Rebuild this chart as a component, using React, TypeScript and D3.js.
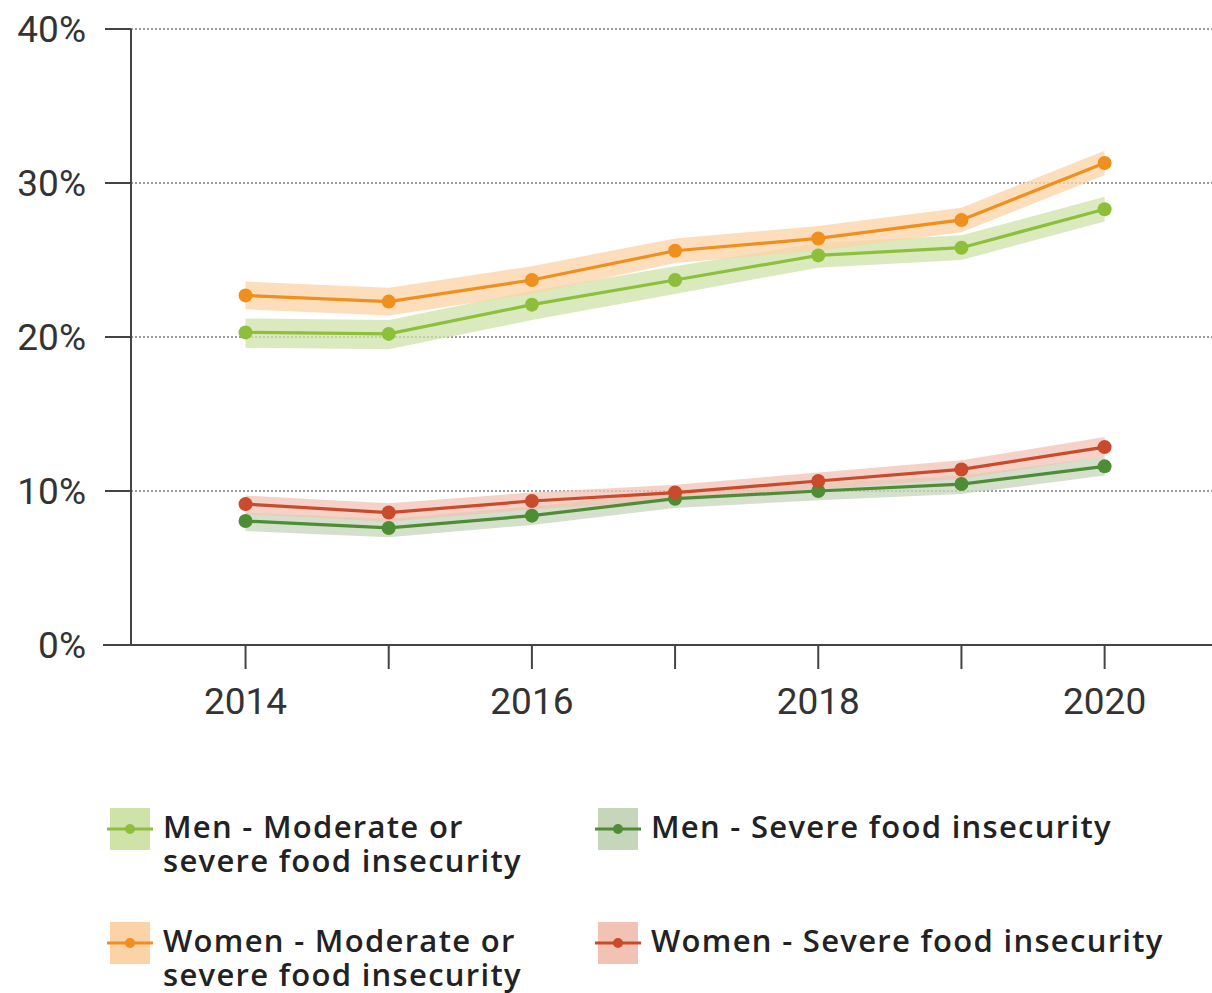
import React, { useEffect } from "react";
import * as d3 from "d3";

// Years on the x axis
const years = [2014, 2015, 2016, 2017, 2018, 2019, 2020];
const xTickLabels = [2014, 2016, 2018, 2020];
const yTicks = [0, 10, 20, 30, 40];

// Prevalence of food insecurity (%), with confidence bands
const menModerate = [20.3, 20.2, 22.1, 23.7, 25.3, 25.8, 28.3];
const menModerateLow = [19.3, 19.2, 21.1, 22.8, 24.5, 25.0, 27.5];
const menModerateHigh = [21.2, 21.1, 23.0, 24.6, 26.1, 26.6, 29.1];

const womenModerate = [22.7, 22.3, 23.7, 25.6, 26.4, 27.6, 31.3];
const womenModerateLow = [21.8, 21.4, 22.8, 24.8, 25.6, 26.8, 30.5];
const womenModerateHigh = [23.6, 23.2, 24.6, 26.4, 27.2, 28.4, 32.1];

const menSevere = [8.05, 7.6, 8.4, 9.5, 10.0, 10.45, 11.6];
const menSevereLow = [7.4, 7.0, 7.8, 8.9, 9.4, 9.8, 11.0];
const menSevereHigh = [8.6, 8.2, 9.0, 10.0, 10.5, 11.0, 12.2];

const womenSevere = [9.15, 8.6, 9.35, 9.9, 10.65, 11.4, 12.85];
const womenSevereLow = [8.5, 8.0, 8.8, 9.4, 10.1, 10.8, 12.2];
const womenSevereHigh = [9.7, 9.2, 9.9, 10.4, 11.2, 12.0, 13.5];

const seriesNames = [
  ["Men - Moderate or", "severe food insecurity"],
  ["Men - Severe food insecurity"],
  ["Women - Moderate or", "severe food insecurity"],
  ["Women - Severe food insecurity"],
];
const lineColors = ["#8dbf3c", "#4f8c36", "#ef8f1d", "#c94a2c"];
const bandColors = ["#cfe3a8", "#c6d6bb", "#fbd3a6", "#f2c3b4"];

type Series = { v: number[]; lo: number[]; hi: number[] };
const series: Series[] = [
  { v: menModerate, lo: menModerateLow, hi: menModerateHigh },
  { v: menSevere, lo: menSevereLow, hi: menSevereHigh },
  { v: womenModerate, lo: womenModerateLow, hi: womenModerateHigh },
  { v: womenSevere, lo: womenSevereLow, hi: womenSevereHigh },
];
// draw order: bands and lines back to front
const drawOrder = [0, 2, 1, 3];

const W = 1212;
const H = 993;

export default function App() {
  useEffect(() => {
    document.body.style.margin = "0";
  }, []);

  const x = d3.scaleLinear().domain([2013.2, 2020.75]).range([131, 1212]);
  const y = d3.scaleLinear().domain([0, 40]).range([645, 29]);

  const line = d3
    .line<number>()
    .x((_, i) => x(years[i]))
    .y((d) => y(d));

  const area = (s: Series) =>
    d3
      .area<number>()
      .x((_, i) => x(years[i]))
      .y0((_, i) => y(s.lo[i]))
      .y1((_, i) => y(s.hi[i]))(s.v) as string;

  const axisFont = "Roboto, sans-serif";
  const legendFont = "'Open Sans', Lato, sans-serif";

  const legendPos = [
    { x: 110, y: 808 },
    { x: 598, y: 808 },
    { x: 110, y: 922 },
    { x: 598, y: 922 },
  ];

  return (
    <svg width={W} height={H} style={{ display: "block", background: "#fff" }}>
      {/* gridlines */}
      {yTicks
        .filter((t) => t > 0)
        .map((t) => (
          <line
            key={"g" + t}
            x1={x.range()[0]}
            x2={W}
            y1={y(t)}
            y2={y(t)}
            stroke="#7a7a7a"
            strokeWidth={1.6}
            strokeDasharray="2,2"
          />
        ))}

      {/* y axis */}
      <line x1={x.range()[0]} x2={x.range()[0]} y1={y(40)} y2={y(0)} stroke="#444" strokeWidth={2} />
      {yTicks.map((t) => (
        <g key={"y" + t}>
          <line x1={105} x2={x.range()[0]} y1={y(t)} y2={y(t)} stroke="#444" strokeWidth={2} />
          <text
            x={86}
            y={y(t)}
            dy="0.36em"
            textAnchor="end"
            fontFamily={axisFont}
            fontSize={37}
            fill="#333"
          >
            {t}%
          </text>
        </g>
      ))}

      {/* x axis */}
      <line x1={103} x2={W} y1={y(0)} y2={y(0)} stroke="#444" strokeWidth={2} />
      {years.map((yr) => (
        <line key={"xt" + yr} x1={x(yr)} x2={x(yr)} y1={y(0)} y2={y(0) + 24} stroke="#444" strokeWidth={2} />
      ))}
      {xTickLabels.map((yr) => (
        <text
          key={"xl" + yr}
          x={x(yr)}
          y={714}
          textAnchor="middle"
          fontFamily={axisFont}
          fontSize={37}
          fill="#333"
        >
          {yr}
        </text>
      ))}

      {/* confidence bands */}
      {drawOrder.map((k) => (
        <path key={"b" + k} d={area(series[k])} fill={bandColors[k]} opacity={0.75} />
      ))}

      {/* lines and points */}
      {drawOrder.map((k) => (
        <g key={"l" + k}>
          <path d={line(series[k].v) as string} fill="none" stroke={lineColors[k]} strokeWidth={3.2} />
          {series[k].v.map((v, i) => (
            <circle key={i} cx={x(years[i])} cy={y(v)} r={7} fill={lineColors[k]} />
          ))}
        </g>
      ))}

      {/* legend */}
      {seriesNames.map((lines, k) => {
        const p = legendPos[k];
        return (
          <g key={"lg" + k} transform={`translate(${p.x},${p.y})`}>
            <rect x={0} y={0} width={40} height={42} fill={bandColors[k]} />
            <line x1={-3} x2={43} y1={21} y2={21} stroke={lineColors[k]} strokeWidth={3} />
            <circle cx={20} cy={21} r={5} fill={lineColors[k]} />
            {lines.map((t, j) => (
              <text
                key={j}
                x={53}
                y={30 + j * 34}
                fontFamily={legendFont}
                fontSize={31}
                fontWeight={600}
                letterSpacing={1.3}
                fill="#222"
              >
                {t}
              </text>
            ))}
          </g>
        );
      })}
    </svg>
  );
}
